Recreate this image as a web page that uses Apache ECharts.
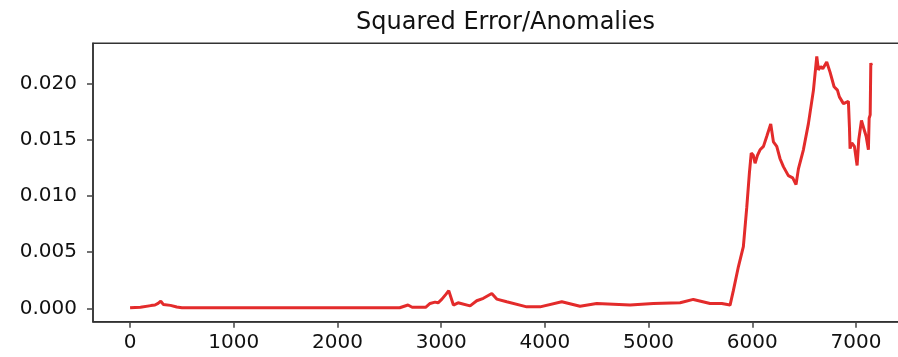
<!DOCTYPE html>
<html>
<head>
<meta charset="utf-8">
<script src="https://cdn.jsdelivr.net/npm/echarts@6/dist/echarts.min.js"></script>
<style>
html,body{margin:0;padding:0;background:#fff;}
#chart{width:898px;height:357px;}
</style>
</head>
<body>
<div id="chart"></div>
<script>
const titleText = "Squared Error/Anomalies";
const xValues = [0, 100, 200, 240, 270, 296, 320, 390, 450, 500, 1500, 2600, 2680, 2720, 2850, 2893, 2941, 2970, 3005, 3047, 3073, 3118, 3163, 3279, 3343, 3407, 3488, 3536, 3632, 3825, 3954, 4163, 4339, 4500, 4822, 5046, 5304, 5432, 5593, 5706, 5786, 5818, 5866, 5914, 5947, 5972, 5990, 6010, 6027, 6050, 6075, 6108, 6140, 6178, 6204, 6236, 6268, 6300, 6348, 6390, 6422, 6445, 6493, 6541, 6590, 6622, 6638, 6660, 6680, 6718, 6750, 6789, 6821, 6840, 6879, 6927, 6937, 6943, 6960, 6985, 7011, 7027, 7053, 7072, 7098, 7120, 7127, 7137, 7143, 7150];
const errValues = [0.00005, 0.0001, 0.00025, 0.0003, 0.00045, 0.00065, 0.00035, 0.00027, 0.00012, 0.00006, 0.00006, 0.00006, 0.0003, 0.0001, 0.0001, 0.00044, 0.00056, 0.0005, 0.0008, 0.00127, 0.00158, 0.0003, 0.0005, 0.00023, 0.00068, 0.0009, 0.00133, 0.00083, 0.00059, 0.00014, 0.00014, 0.00059, 0.0002, 0.00044, 0.0003, 0.00044, 0.0005, 0.0008, 0.00044, 0.00044, 0.0003, 0.0016, 0.0037, 0.0055, 0.009, 0.012, 0.0138, 0.0136, 0.0129, 0.0136, 0.0141, 0.0144, 0.0153, 0.0164, 0.0148, 0.0144, 0.0133, 0.0126, 0.0118, 0.0116, 0.0110, 0.0124, 0.0141, 0.0164, 0.0194, 0.0224, 0.0212, 0.0215, 0.0213, 0.0219, 0.0210, 0.0197, 0.0194, 0.0188, 0.0182, 0.0184, 0.0161, 0.0142, 0.0147, 0.0144, 0.0127, 0.0150, 0.0167, 0.0161, 0.0153, 0.0141, 0.0169, 0.0172, 0.0218, 0.0216];

const seriesData = xValues.map((x, i) => [x, errValues[i]]);
const chart = echarts.init(document.getElementById('chart'), null, {renderer: 'canvas'});
const font = 'DejaVu Sans';
chart.setOption({
  animation: false,
  backgroundColor: '#ffffff',
  title: {
    text: titleText,
    left: 500.5,
    textAlign: 'center',
    top: 6,
    textStyle: {fontFamily: font, fontSize: 24, fontWeight: 'normal', color: '#111'}
  },
  grid: {
    left: 93, top: 43.3, width: 815.6, height: 278.4,
    outerBoundsMode: 'none', containLabel: false,
    show: true, borderColor: '#333', borderWidth: 1.5, backgroundColor: 'transparent'
  },
  xAxis: {
    type: 'value', min: -357.5, max: 7507.5, splitNumber: 8,
    splitLine: {show: false},
    axisLine: {show: true, onZero: false, lineStyle: {color: '#333', width: 1.5}},
    axisTick: {show: true, length: 6, lineStyle: {color: '#444', width: 1.5}},
    axisLabel: {show: true, margin: 11, showMinLabel: false, showMaxLabel: false,
      fontFamily: font, fontSize: 20, color: '#111',
      formatter: v => String(Math.round(v))}
  },
  yAxis: {
    type: 'value', min: -0.00118, max: 0.02356, splitNumber: 5,
    splitLine: {show: false},
    axisLine: {show: true, onZero: false, lineStyle: {color: '#333', width: 1.5}},
    axisTick: {show: true, length: 6, lineStyle: {color: '#444', width: 1.5}},
    axisLabel: {show: true, margin: 16, showMinLabel: false, showMaxLabel: false,
      fontFamily: font, fontSize: 20, color: '#111',
      formatter: v => v.toFixed(3)}
  },
  series: [{
    type: 'line',
    data: seriesData,
    showSymbol: false,
    symbol: 'none',
    lineStyle: {color: '#e32b2b', width: 3},
    z: 3
  }]
});
</script>
</body>
</html>
